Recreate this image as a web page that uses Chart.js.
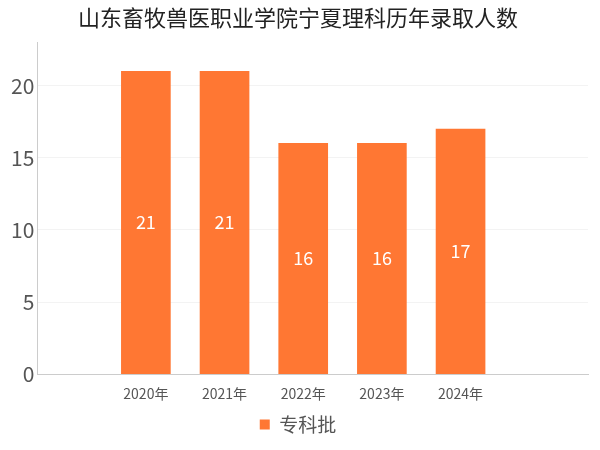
<!DOCTYPE html>
<html><head><meta charset="utf-8">
<script src="https://cdn.jsdelivr.net/npm/chart.js@4"></script>
<style>body{margin:0;background:#fff}#w{width:600px;height:450px}</style>
</head><body><div id="w"><canvas id="c"></canvas></div>
<script>
const categories=["2020年","2021年","2022年","2023年","2024年"];
const values=[21,21,16,16,17];
const seriesName="专科批";
const F="'Noto Sans CJK SC','Noto Sans',sans-serif";
const labels={id:'lbl',afterDatasetsDraw(ch){const ctx=ch.ctx;ch.getDatasetMeta(0).data.forEach((b,i)=>{ctx.save();ctx.fillStyle='#fff';ctx.font='18px '+F;ctx.textAlign='center';ctx.textBaseline='middle';ctx.fillText(values[i],b.x,(b.y+b.base)/2);ctx.restore();});}};
new Chart(document.getElementById('c'),{type:'bar',
data:{datasets:[{label:seriesName,data:values.map((v,i)=>({x:i,y:v})),backgroundColor:'#FF7733',barThickness:49}]},
options:{responsive:true,maintainAspectRatio:false,animation:false,
layout:{padding:{left:8,right:12,top:0,bottom:6}},
plugins:{title:{display:true,text:'山东畜牧兽医职业学院宁夏理科历年录取人数',font:{family:F,size:22,weight:'normal'},color:'#222',padding:{top:4,bottom:12}},
legend:{position:'bottom',labels:{font:{family:F,size:19},color:'#555',boxWidth:10,boxHeight:10}},tooltip:{enabled:false}},
scales:{y:{min:0,max:23,afterBuildTicks(s){s.ticks=s.ticks.filter(t=>t.value%5===0);},ticks:{stepSize:5,font:{family:F,size:21},color:'#555'},grid:{color:'#f3f3f3',drawTicks:false},border:{color:'#ccc'}},
x:{type:'linear',min:-0.68,max:4.92,afterBuildTicks(s){s.ticks=categories.map((c,i)=>({value:i}));},ticks:{callback:(v)=>categories[v],font:{family:F,size:14},color:'#555'},grid:{display:false},border:{color:'#ccc'}}}},
plugins:[labels]});
</script></body></html>
